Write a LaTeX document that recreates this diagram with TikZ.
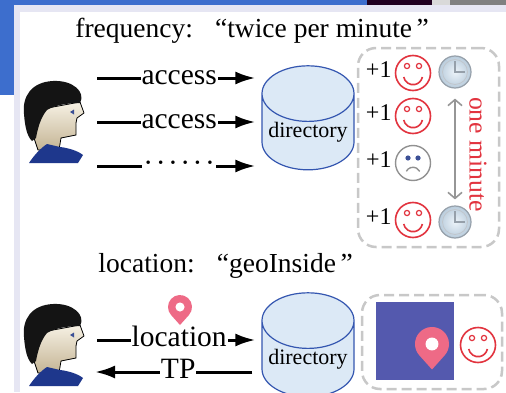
\documentclass[tikz,border=0pt]{standalone}
\usepackage{fontspec}
\setmainfont{Liberation Serif}
\usetikzlibrary{arrows.meta, positioning, shapes.geometric}

\definecolor{slideblue}{RGB}{61,110,205}
\definecolor{panelrim}{RGB}{230,230,243}
\definecolor{dbline}{RGB}{52,86,176}
\definecolor{dbfill}{RGB}{220,233,246}
\definecolor{smred}{RGB}{226,52,63}
\definecolor{sadgray}{RGB}{145,145,145}
\definecolor{eyeblue}{RGB}{60,80,150}
\definecolor{winline}{RGB}{200,200,200}
\definecolor{spangray}{RGB}{150,150,150}
\definecolor{mapblue}{RGB}{84,89,174}
\definecolor{pinpink}{RGB}{238,106,134}
\definecolor{hairblack}{RGB}{20,20,20}
\definecolor{skinlight}{RGB}{246,241,228}
\definecolor{skindark}{RGB}{196,180,148}
\definecolor{collarblue}{RGB}{30,55,140}
\definecolor{clkrim}{RGB}{150,160,170}
\definecolor{clkhi}{RGB}{236,243,249}
\definecolor{clklo}{RGB}{185,204,220}

% full-width quotes
\newcommand{\qopen}{\makebox[1em][r]{“}}
\newcommand{\qclose}{\makebox[1em][l]{\,”}}

\tikzset{
  bigtext/.style={font=\fontsize{27.5}{30}\selectfont},
  flow/.style={line width=3pt, -{Latex[length=20pt,width=13pt]}},
  tag/.style={font=\fontsize{29.5}{32}\selectfont, fill=white, inner xsep=1pt, inner ysep=0pt,
    anchor=base, yshift=-6.8pt},
  db/.style={cylinder, shape border rotate=90, aspect=0.7, draw=dbline, fill=dbfill,
    line width=1.2pt, minimum width=92pt, minimum height=92pt, inner sep=0pt,
    font=\fontsize{22}{24}\selectfont},
  window/.style={draw=winline, line width=2.5pt, dash pattern=on 10pt off 5pt,
    rounded corners=18pt, inner sep=0pt},
  plusone/.style={font=\fontsize{24}{26}\selectfont, inner sep=0pt},
  smile/.style={circle, draw=smred, fill=white, line width=1.6pt, minimum size=35pt, inner sep=0pt,
    path picture={
      \draw[smred, line width=1.2pt]
        ([shift={(-6,7)}]path picture bounding box.center) circle[radius=2.6]
        ([shift={(6,7)}]path picture bounding box.center) circle[radius=2.6];
      \draw[smred, line width=1.6pt] ([shift={(-9.3,-4)}]path picture bounding box.center)
        arc[start angle=191, end angle=349, radius=9.5];
    }},
  sad/.style={circle, draw=sadgray, fill=white, line width=1.4pt, minimum size=35pt, inner sep=0pt,
    path picture={
      \fill[eyeblue]
        ([shift={(-5,5)}]path picture bounding box.center) circle[radius=2.6]
        ([shift={(5,5)}]path picture bounding box.center) circle[radius=2.6];
      \draw[sadgray, line width=1.4pt] ([shift={(-6.7,-8.3)}]path picture bounding box.center)
        arc[start angle=152, end angle=28, radius=7.6];
    }},
  clock/.style={circle, draw=clkrim, line width=1.2pt, inner color=clkhi, outer color=clklo,
    minimum size=32pt, inner sep=0pt,
    path picture={
      \draw[clkrim!60, line width=0.8pt] (path picture bounding box.center) circle[radius=12.5];
      \draw[line width=1.1pt] ([yshift=11pt]path picture bounding box.center)
        |- ([xshift=10pt]path picture bounding box.center);
    }},
  span/.style={draw=spangray, line width=1.6pt, <->, >={Straight Barb[length=6pt,width=14pt]}},
  pics/pin/.style={code={
    \fill[pinpink] (0,-1.5) -- (-41.81:1) arc[start angle=-41.81, end angle=221.81, radius=1] -- cycle;
    \fill[white] (0,0) circle[radius=0.38];
  }},
  pics/user/.style={code={
    % face and neck
    \draw[line width=0.8pt, top color=skinlight, bottom color=skindark]
      (-19,-16) -- (-16,12) -- (27,20) -- (31,9) -- (24,4) -- (23,-1) -- (23,-13)
      -- (8,-16) -- (6,-28) -- (-15,-28) -- cycle;
    % hair
    \fill[hairblack] (27,19) .. controls (33,30) and (20,42) .. (0,41)
      .. controls (-22,40) and (-31,25) .. (-29,8)
      .. controls (-28,-5) and (-26,-14) .. (-21,-19) -- (-17,-16)
      .. controls (-15,-5) and (-12,5) .. (-6,12)
      .. controls (2,17) and (15,19) .. (27,19) -- cycle;
    % collar
    \fill[collarblue] (-24,-41) .. controls (-18,-32) and (-12,-26) .. (-6,-22) -- (7,-25)
      .. controls (16,-26) and (25,-29) .. (30,-33) -- (25,-41) -- cycle;
    % eye
    \fill[eyeblue] (17,10) -- (21,12.5) -- (21,7.5) -- cycle;
  }},
}

\begin{document}
\begin{tikzpicture}[x=1pt, y=1pt]
  \useasboundingbox (0,0) rectangle (506,392);
  % slide frame
  \fill[white] (0,0) rectangle (506,392);
  \fill[slideblue] (0,297) rectangle (14,392);
  \fill[slideblue] (0,387) rectangle (367,392);
  \fill[black!75!violet] (367,387) rectangle (432,392);
  \fill[black!15] (432,387) rectangle (450,392);
  \fill[black!50] (450,387) rectangle (506,392);
  \fill[panelrim] (14,0) rectangle (20,387);
  \fill[panelrim] (14,380) rectangle (506,387);

  % frequency part
  \node[bigtext, anchor=base] (freq) at (257.5,355) {frequency:~\qopen twice per minute\qclose};
  \pic at (53,270) {user};
  \node[db] (dir1) at (308,260) {directory};

  \coordinate (q1) at (97,314);
  \coordinate (q2) at (97,270);
  \coordinate (q3) at (97,226);
  \draw[flow, shorten >=6pt] (q1) -- node[tag] {access} (q1 -| dir1.west);
  \draw[flow, shorten >=6pt] (q2) -- node[tag] {access} (q2 -| dir1.west);
  \draw[flow, shorten >=6pt] (q3) -- node[tag] {·\hspace{2.5pt}·\hspace{2.5pt}·\hspace{2.5pt}·\hspace{2.5pt}·\hspace{2.5pt}·} (q3 -| dir1.west);

  \node[window, minimum width=141pt, minimum height=199pt] (win1) at (428.5,244.5) {};
  \foreach \y/\f [count=\i] in {319/smile,276/smile,229/sad,172/smile}{
    \node[\f] (f\i) at (413,\y) {};
    \node[plusone, left=3pt of f\i, yshift=3pt] (n\i) {+1};
  }
  \node[clock] (clk1) at (455,320) {};
  \node[clock] (clk2) at (455,170) {};
  \draw[span, shorten <=10pt, shorten >=6pt] (clk1) -- (clk2);
  \node[font=\fontsize{25.7}{28}\selectfont, text=smred, rotate=-90] (dur) at (478,237.5) {one minute};

  % location part
  \node[bigtext, anchor=base] (loc) at (231,120) {location:~\qopen geoInside\qclose};
  \pic at (53,47) {user};
  \node[db] (dir2) at (308,33) {directory};

  \coordinate (q4) at (97,52);
  \coordinate (q5) at (95,20);
  \pic[scale=12] at (180,85) {pin};
  \draw[flow, shorten >=6pt] (q4) -- node[tag] {location} (q4 -| dir2.west);
  \draw[flow, shorten <=9pt] (q5 -| dir2.west) -- node[tag] {TP} (q5);

  \node[window, minimum width=140pt, minimum height=94pt] (win2) at (432,50) {};
  \node[fill=mapblue, minimum size=78pt, inner sep=0pt] (map) at (415,51) {};
  \pic[scale=17] at (432,48) {pin};
  \node[smile] (f5) at (478,47) {};
\end{tikzpicture}
\end{document}
